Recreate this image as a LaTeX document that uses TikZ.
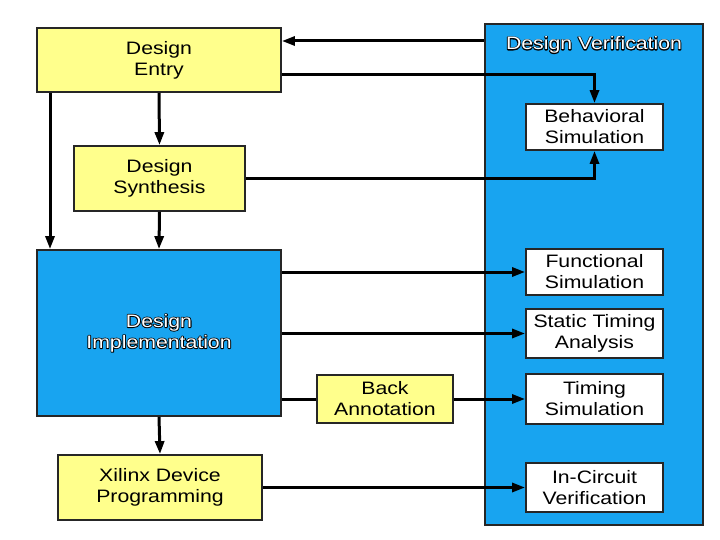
\documentclass[tikz,border=0pt]{standalone}
\usepackage{fontspec}
\setmainfont{Liberation Sans}[FakeStretch=1.18]
\usetikzlibrary{arrows.meta}
\definecolor{boxyellow}{RGB}{255,255,140}
\definecolor{boxblue}{RGB}{24,164,240}
\newcommand\oltext[1]{{\rlap{\color{black}\special{pdf:literal direct 1.7 w 1 j 1 Tr}#1\special{pdf:literal direct 0 Tr}}\color{white}#1}}
\begin{document}
\begin{tikzpicture}[x=1pt,y=-1pt,
  every node/.style={font=\fontsize{18}{21}\selectfont, align=center, inner sep=0pt},
  ybox/.style={draw=black!85, line width=1.8pt, fill=boxyellow},
  bbox/.style={draw=black!85, line width=1.8pt, fill=boxblue},
  wbox/.style={draw=black!85, line width=1.8pt, fill=white},
  conn/.style={line width=3pt, draw=black},
  arr/.style={conn, -{Triangle[length=13pt,width=9pt]}}]
\useasboundingbox (0,0) rectangle (720,540);
\fill[white] (0,0) rectangle (720,540);
% verification panel
\node[bbox, minimum width=218pt, minimum height=501pt] (ver) at (594,274.5) {};
\node (vertitle) at (594,45) {\oltext{Design Verification}};
% left side boxes
\node[ybox, minimum width=244pt, minimum height=64pt] (entry) at (159,60) {Design\\Entry};
\node[ybox, minimum width=171pt, minimum height=65pt] (synth) at (159.5,178.5) {Design\\Synthesis};
\node[bbox, minimum width=244pt, minimum height=166pt] (impl) at (159,333) {\oltext{Design}\\\oltext{Implementation}};
\node[ybox, minimum width=204pt, minimum height=65pt] (xil) at (160,487.5) {Xilinx Device\\Programming};
\node[ybox, minimum width=136pt, minimum height=48pt] (back) at (385,399) {Back\\Annotation};
% verification boxes
\node[wbox, minimum width=137pt, minimum height=46pt] (beh) at (594.5,127) {Behavioral\\Simulation};
\node[wbox, minimum width=137pt, minimum height=46pt] (func) at (594.5,272) {Functional\\Simulation};
\node[wbox, minimum width=137pt, minimum height=49pt] (sta) at (594.5,333.5) {Static Timing\\Analysis};
\node[wbox, minimum width=137pt, minimum height=50pt] (tim) at (594.5,399) {Timing\\Simulation};
\node[wbox, minimum width=137pt, minimum height=49pt] (inc) at (594.5,487.5) {In-Circuit\\Verification};
% connectors
\draw[arr] (ver.west |- 0,41) -- (entry.east |- 0,41);
\draw[arr] (entry.east |- 0,75) -| (beh.north);
\draw[arr] (synth.east) -| (beh.south);
\draw[arr] (entry.south -| 50,0) -- (impl.north -| 50,0);
\draw[arr] (entry.south) -- (synth.north);
\draw[arr] (synth.south) -- (impl.north);
\draw[arr] (impl.east |- func.west) -- (func.west);
\draw[arr] (impl.east |- sta.west) -- (sta.west);
\draw[conn] (impl.east |- back.west) -- (back.west);
\draw[arr] (back.east) -- (tim.west);
\draw[arr] (impl.south) -- (xil.north);
\draw[arr] (xil.east) -- (inc.west);
\end{tikzpicture}
\end{document}
